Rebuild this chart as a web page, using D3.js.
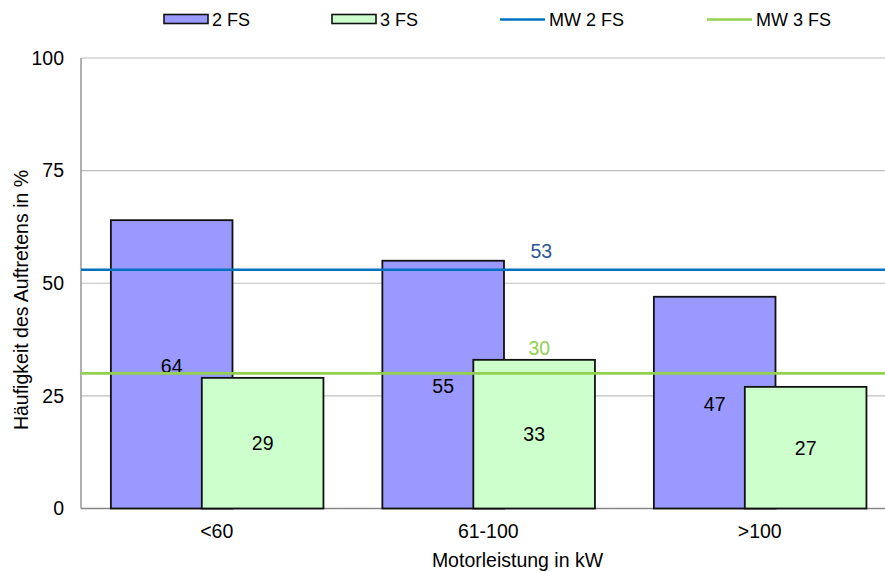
<!DOCTYPE html>
<html>
<head>
<meta charset="utf-8">
<script src="https://cdn.jsdelivr.net/npm/d3@7"></script>
<style>
  html, body { margin: 0; padding: 0; background: #fff; }
  svg { display: block; font-family: "Liberation Sans", Arial, sans-serif; }
</style>
</head>
<body>
<svg id="chart" width="885" height="572"></svg>
<script>
// Categories and values
const categories = ["<60", "61-100", ">100"];
const values2FS = [64, 55, 47];
const values3FS = [29, 33, 27];
const mean2FS = 53;
const mean3FS = 30;
const yTicks = [0, 25, 50, 75, 100];
const seriesNames = ["2 FS", "3 FS", "MW 2 FS", "MW 3 FS"];

const colors = {
  bar2: "#9999FF",
  bar3: "#CCFFCC",
  mw2: "#0070C0",
  mw3: "#92D050",
  mw2Label: "#2F5597"
};

const FS = 19.5;        // main text size
const FS_LEGEND = 18;   // legend text size

const svg = d3.select("#chart");
const plotLeft = 81, plotTop = 58, plotBottom = 508.5, plotRight = 895.5;

const x = d3.scaleBand().domain(categories).range([plotLeft, plotRight]).paddingInner(0).paddingOuter(0);
const y = d3.scaleLinear().domain([0, 100]).range([plotBottom, plotTop]);

const barW = x.bandwidth() * 0.448;
const offset2 = -x.bandwidth() * 0.39;   // left edge of first bar relative to band centre
const offset3 = offset2 + x.bandwidth() * 0.335;

// Grid lines
svg.append("g").selectAll("line").data(yTicks.filter(d => d > 0)).join("line")
  .attr("x1", plotLeft).attr("x2", plotRight)
  .attr("y1", d => y(d)).attr("y2", d => y(d))
  .attr("stroke", "#BFBFBF").attr("stroke-width", 1.2);

// Y axis labels
svg.append("g").selectAll("text").data(yTicks).join("text")
  .attr("x", 64).attr("y", d => y(d)).attr("dy", "0.35em")
  .attr("text-anchor", "end").attr("font-size", FS).attr("fill", "#000")
  .text(d => d);

// Axis lines
svg.append("line").attr("x1", plotLeft).attr("x2", plotLeft).attr("y1", plotTop).attr("y2", plotBottom)
  .attr("stroke", "#868686").attr("stroke-width", 1.3);
svg.append("line").attr("x1", plotLeft).attr("x2", plotRight).attr("y1", plotBottom).attr("y2", plotBottom)
  .attr("stroke", "#868686").attr("stroke-width", 1.3);

const centre = c => x(c) + x.bandwidth() / 2;

// Bars: 2 FS
svg.append("g").selectAll("rect").data(categories).join("rect")
  .attr("x", c => centre(c) + offset2)
  .attr("y", (c, i) => y(values2FS[i]))
  .attr("width", barW)
  .attr("height", (c, i) => y(0) - y(values2FS[i]))
  .attr("fill", colors.bar2).attr("stroke", "#111").attr("stroke-width", 1.8);

// Bars: 3 FS (drawn on top, overlapping)
svg.append("g").selectAll("rect").data(categories).join("rect")
  .attr("x", c => centre(c) + offset3)
  .attr("y", (c, i) => y(values3FS[i]))
  .attr("width", barW)
  .attr("height", (c, i) => y(0) - y(values3FS[i]))
  .attr("fill", colors.bar3).attr("stroke", "#111").attr("stroke-width", 1.8);

// Value labels
svg.append("g").selectAll("text").data(categories).join("text")
  .attr("x", c => centre(c) + offset2 + barW / 2)
  .attr("y", (c, i) => (y(values2FS[i]) + y(0)) / 2 + 1.5).attr("dy", "0.35em")
  .attr("text-anchor", "middle").attr("font-size", FS).attr("fill", "#000")
  .text((c, i) => values2FS[i]);
svg.append("g").selectAll("text").data(categories).join("text")
  .attr("x", c => centre(c) + offset3 + barW / 2)
  .attr("y", (c, i) => (y(values3FS[i]) + y(0)) / 2).attr("dy", "0.35em")
  .attr("text-anchor", "middle").attr("font-size", FS).attr("fill", "#000")
  .text((c, i) => values3FS[i]);

// Mean lines
svg.append("line").attr("x1", plotLeft).attr("x2", plotRight)
  .attr("y1", y(mean2FS)).attr("y2", y(mean2FS))
  .attr("stroke", colors.mw2).attr("stroke-width", 2.6);
svg.append("line").attr("x1", plotLeft).attr("x2", plotRight)
  .attr("y1", y(mean3FS)).attr("y2", y(mean3FS))
  .attr("stroke", colors.mw3).attr("stroke-width", 2.6);

const midC = centre(categories[1]);
svg.append("text").attr("x", midC + 53).attr("y", y(mean2FS) - 18.5).attr("dy", "0.35em")
  .attr("text-anchor", "middle").attr("font-size", FS).attr("fill", colors.mw2Label)
  .text(mean2FS);
svg.append("text").attr("x", midC + 51).attr("y", y(mean3FS) - 25.5).attr("dy", "0.35em")
  .attr("text-anchor", "middle").attr("font-size", FS).attr("fill", colors.mw3)
  .text(mean3FS);

// X axis labels
svg.append("g").selectAll("text").data(categories).join("text")
  .attr("x", c => centre(c)).attr("y", 531.5).attr("dy", "0.35em")
  .attr("text-anchor", "middle").attr("font-size", FS).attr("fill", "#000")
  .text(c => c);

svg.append("text").attr("x", 517.5).attr("y", 560).attr("dy", "0.35em")
  .attr("text-anchor", "middle").attr("font-size", FS).attr("fill", "#000")
  .text("Motorleistung in kW");

svg.append("text")
  .attr("transform", "translate(21,300) rotate(-90)").attr("dy", "0.35em")
  .attr("text-anchor", "middle").attr("font-size", FS).attr("fill", "#000")
  .text("Häufigkeit des Auftretens in %");

// Legend
const legendX = [164, 332, 500, 707];
const lg = svg.append("g");
seriesNames.forEach((name, i) => {
  const lx = legendX[i];
  if (i < 2) {
    lg.append("rect").attr("x", lx).attr("y", 14.5).attr("width", 44).attr("height", 9)
      .attr("fill", i === 0 ? colors.bar2 : colors.bar3)
      .attr("stroke", "#111").attr("stroke-width", 1.6);
  } else {
    lg.append("line").attr("x1", lx).attr("x2", lx + 45).attr("y1", 19.5).attr("y2", 19.5)
      .attr("stroke", i === 2 ? colors.mw2 : colors.mw3).attr("stroke-width", 2.6);
  }
  lg.append("text").attr("x", lx + (i < 2 ? 48 : 49)).attr("y", 19.5).attr("dy", "0.35em")
    .attr("font-size", FS_LEGEND).attr("fill", "#000").text(name);
});
</script>
</body>
</html>
